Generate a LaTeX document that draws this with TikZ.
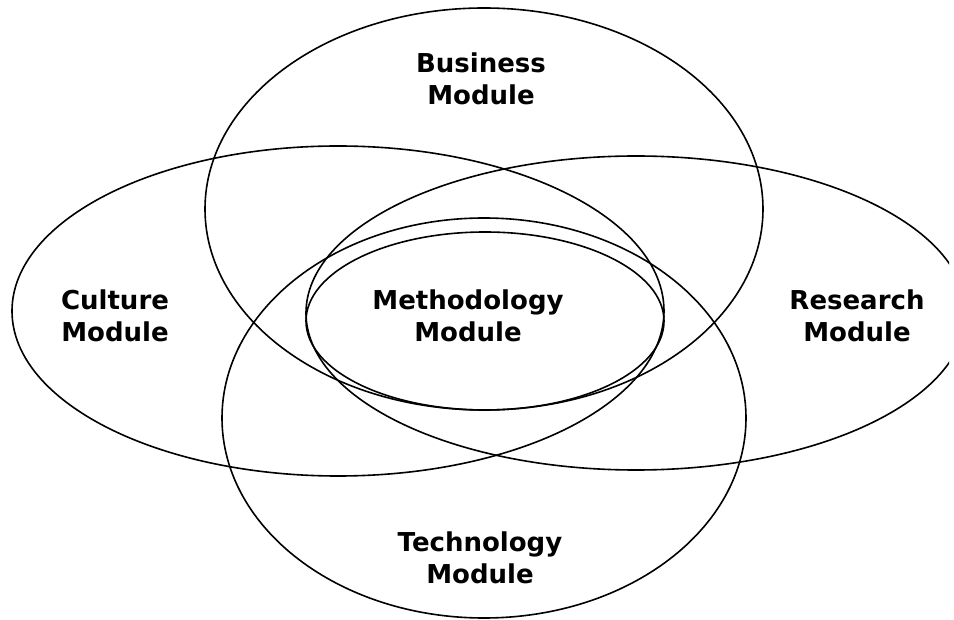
\documentclass[tikz,border=0pt]{standalone}
\usepackage{fontspec}
\setmainfont{DejaVu Sans}
\begin{document}
\begin{tikzpicture}[x=1pt,y=-1pt,
  ring/.style={draw=black,line width=1.6pt},
  lbl/.style={font=\fontsize{26}{32}\selectfont\bfseries,align=center,inner sep=0pt}]
\useasboundingbox (0,0) rectangle (954,620);
\begin{scope}
\clip (0,0) rectangle (949,620);
\draw[ring] (484,209) ellipse [x radius=279pt, y radius=201pt];
\draw[ring] (338,311) ellipse [x radius=326pt, y radius=165pt];
\draw[ring] (636,313) ellipse [x radius=330pt, y radius=157pt];
\draw[ring] (484,418) ellipse [x radius=262pt, y radius=200pt];
\draw[ring] (485,321) ellipse [x radius=179pt, y radius=89pt];
\end{scope}
\node[lbl] (bus) at (481,79) {Business\\Module};
\node[lbl] (cul) at (115,316) {Culture\\Module};
\node[lbl] (met) at (468,316) {Methodology\\Module};
\node[lbl] (res) at (857,316) {Research\\Module};
\node[lbl] (tec) at (480,558) {Technology\\Module};
\end{tikzpicture}
\end{document}
